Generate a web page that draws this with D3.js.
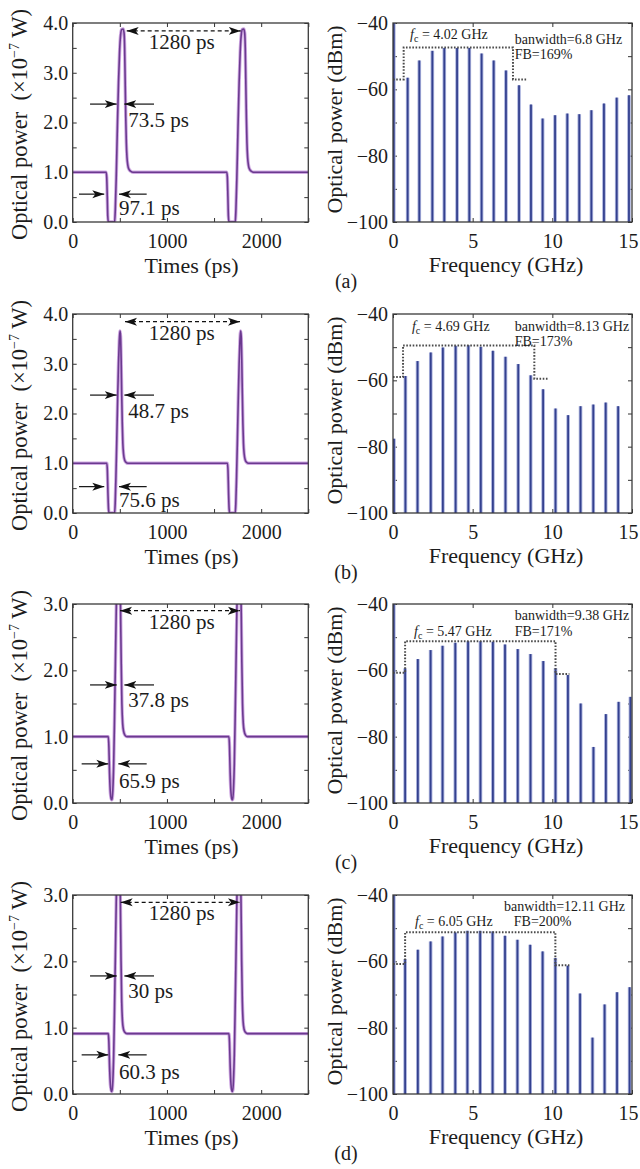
<!DOCTYPE html>
<html>
<head>
<meta charset="utf-8">
<script src="https://cdn.jsdelivr.net/npm/d3@7"></script>
<style>
  body { margin: 0; background: #fff; }
  text { font-family: "Liberation Serif", "DejaVu Serif", serif; fill: #1c1c1c; }
</style>
</head>
<body>
<svg id="fig" width="640" height="1169"></svg>
<script>
// ---- data ----
// time-domain waveforms (ps, x1e-7 W)
var waveA_t = [0,355,361,367,372,378,445,452,462,474,486,497,508,520,535,545,551,557,563,569,576,585,597,615,640,
  1635,1641,1647,1652,1658,1725,1732,1742,1754,1766,1777,1788,1800,1815,1825,1831,1837,1843,1849,1856,1865,1877,1895,1920,2500];
var waveA_p = [1.0,1.0,0.9,0.5,0.12,0,0,0.25,0.9,1.9,2.8,3.4,3.75,3.87,3.88,3.8,3.5,2.8,2.1,1.6,1.3,1.14,1.06,1.02,1.0,
  1.0,0.9,0.5,0.12,0,0,0.25,0.9,1.9,2.8,3.4,3.75,3.87,3.88,3.8,3.5,2.8,2.1,1.6,1.3,1.14,1.06,1.02,1.0,1.0];

var waveB_t = [0,362,368,374,380,386,445,451,459,468,477,486,494,502,508,514,520,526,532,540,550,565,585,
  1642,1648,1654,1660,1666,1725,1731,1739,1748,1757,1766,1774,1782,1788,1794,1800,1806,1812,1820,1830,1845,1865,2500];
var waveB_p = [1,1,0.85,0.4,0.08,0,0,0.2,0.75,1.5,2.3,3.0,3.45,3.66,3.55,3.1,2.4,1.8,1.4,1.18,1.07,1.02,1.0,
  1,0.85,0.4,0.08,0,0,0.2,0.75,1.5,2.3,3.0,3.45,3.66,3.55,3.1,2.4,1.8,1.4,1.18,1.07,1.02,1.0,1.0];

var waveC_t = [0,378,384,391,400,410,418,426,435,444,453,462,472,487,500,508,515,522,530,540,555,575,
  1658,1664,1671,1680,1690,1698,1706,1715,1724,1733,1742,1752,1767,1780,1788,1795,1802,1810,1820,1835,1855,2500];
var waveC_p = [1,1,0.85,0.45,0.15,0.05,0.05,0.2,0.6,1.3,2.1,2.9,3.6,4.0,3.6,2.9,2.1,1.5,1.2,1.08,1.02,1.0,
  1,0.85,0.45,0.15,0.05,0.05,0.2,0.6,1.3,2.1,2.9,3.6,4.0,3.6,2.9,2.1,1.5,1.2,1.08,1.02,1.0,1.0];

var waveD_t = [0,378,384,391,400,410,418,426,435,444,453,462,472,486,498,506,513,520,528,538,553,575,
  1658,1664,1671,1680,1690,1698,1706,1715,1724,1733,1742,1752,1766,1778,1786,1793,1800,1808,1818,1833,1855,2500];
var waveD_p = [0.91,0.91,0.78,0.42,0.14,0.04,0.04,0.2,0.6,1.3,2.1,2.9,3.7,4.2,3.7,2.9,2.0,1.4,1.1,0.98,0.93,0.91,
  0.91,0.78,0.42,0.14,0.04,0.04,0.2,0.6,1.3,2.1,2.9,3.7,4.2,3.7,2.9,2.0,1.4,1.1,0.98,0.93,0.91,0.91];

// spectra (GHz, dBm)
var specA_f = [0.05,0.92,1.65,2.47,3.22,4.02,4.79,5.56,6.32,7.09,7.91,8.66,9.39,10.17,10.94,11.69,12.45,13.24,14.04,14.81];
var specA_db = [-40,-56.5,-51.3,-48.4,-47.5,-47.5,-47.5,-49.2,-51.3,-54.3,-58.8,-64.6,-68.8,-67.8,-67.3,-67.5,-66.3,-64.3,-62.5,-61.8];

var specB_f = [0.06,0.78,1.54,2.37,3.13,3.93,4.73,5.51,6.27,7.06,7.86,8.64,9.42,10.2,10.99,11.77,12.57,13.35,14.13];
var specB_db = [-77.6,-58.7,-54.2,-51.6,-50.1,-49.6,-49.4,-49.9,-51.1,-52.9,-55.1,-58.5,-62.7,-68.5,-70.5,-67.8,-67.3,-66.7,-67.8];

var specC_f = [0.05,0.76,1.56,2.36,3.11,3.91,4.71,5.49,6.27,7.03,7.83,8.63,9.43,10.2,10.98,11.78,12.58,13.36,14.16,14.9];
var specC_db = [-40,-59.4,-56.6,-53.9,-52.6,-51.7,-51.2,-51.2,-51.4,-52.2,-53.6,-55.1,-57.2,-59.4,-61.4,-70,-83.1,-73.2,-69.5,-68];

var specD_f = [0.05,0.76,1.56,2.36,3.11,3.91,4.67,5.47,6.25,7.03,7.81,8.61,9.39,10.19,10.97,11.74,12.52,13.28,14.06,14.85];
var specD_db = [-40,-59.3,-56.5,-54,-52.5,-51.3,-50.8,-50.8,-51,-52.3,-53.5,-55,-57,-59,-61.3,-69.7,-83,-73,-69.3,-67.8];

// dotted bandwidth outline
var dotA_f = [0,0.67,0.67,7.53,7.53,8.45],  dotA_db = [-57,-57,-47.4,-47.4,-57,-57];
var dotB_f = [0,0.63,0.63,8.87,8.87,9.76],  dotB_db = [-59,-59,-49.5,-49.5,-59.5,-59.5];
var dotC_f = [0,0.76,0.76,10.2,10.2,11.07], dotC_db = [-60.7,-60.7,-51.2,-51.2,-61.1,-61.1];
var dotD_f = [0,0.76,0.76,10.19,10.19,11.07], dotD_db = [-60.8,-60.8,-51.2,-51.2,-61.2,-61.2];

// labels
var captions = ["(a)", "(b)", "(c)", "(d)"];
var pulseWidths = ["73.5 ps", "48.7 ps", "37.8 ps", "30 ps"];
var dipWidths = ["97.1 ps", "75.6 ps", "65.9 ps", "60.3 ps"];
var fcLabels = ["4.02 GHz", "4.69 GHz", "5.47 GHz", "6.05 GHz"];
var bwLabels = ["banwidth=6.8 GHz", "banwidth=8.13 GHz", "banwidth=9.38 GHz", "banwidth=12.11 GHz"];
var fbLabels = ["FB=169%", "FB=173%", "FB=171%", "FB=200%"];
var powerMax = [4, 4, 3, 3];
var periodLabel = "1280 ps";

var waves = [[waveA_t, waveA_p], [waveB_t, waveB_p], [waveC_t, waveC_p], [waveD_t, waveD_p]];
var specs = [[specA_f, specA_db], [specB_f, specB_db], [specC_f, specC_db], [specD_f, specD_db]];
var dots = [[dotA_f, dotA_db], [dotB_f, dotB_db], [dotC_f, dotC_db], [dotD_f, dotD_db]];

// ---- layout ----
var rowTop = [23, 314, 604, 895];
var plotH = 199;
var leftX = [72.7, 308.3];
var rightX = [393, 632];

// annotation placement (data coords of each panel)
var ann = [
  {dash: [573, 1783, 3.84], per: [1157, 3.48], fw: 2.37, fwText: [590, 1.91], dip: [0.56, 67, 335, 785, 491], dipText: [491, 0.14],
   fc: [1.07, -44.8], bw: [7.64, -46.3], fb: [7.64, -50.9]},
  {dash: [555, 1775, 3.845], per: [1157, 3.48], fw: 2.37, fwText: [590, 1.91], dip: [0.53, 67, 335, 785, 491], dipText: [491, 0.13],
   fc: [1.19, -45.1], bw: [7.64, -45.1], fb: [7.64, -49.6]},
  {dash: [502, 1775, 2.9], per: [1157, 2.62], fw: 1.78, fwText: [590, 1.44], dip: [0.59, 95, 378, 785, 484], dipText: [491, 0.23],
   fc: [1.32, -49.6], bw: [7.64, -44.8], fb: [7.64, -49.6]},
  {dash: [509, 1775, 2.89], per: [1157, 2.62], fw: 1.78, fwText: [590, 1.44], dip: [0.59, 95, 378, 785, 484], dipText: [491, 0.23],
   fc: [1.38, -49.3], bw: [6.97, -44.8], fb: [7.58, -49.3]}
];

var svg = d3.select("#fig");
var defs = svg.append("defs");
defs.append("marker")
  .attr("id", "arr")
  .attr("viewBox", "0 -5 12 10")
  .attr("refX", 12).attr("refY", 0)
  .attr("markerWidth", 12).attr("markerHeight", 10)
  .attr("markerUnits", "userSpaceOnUse")
  .attr("orient", "auto-start-reverse")
  .append("path")
  .attr("d", "M0,-4L12,0L0,4L3,0Z")
  .attr("fill", "#111");

function styleAxis(g, size) {
  g.select(".domain").remove();
  g.selectAll("line").attr("stroke", "#333").attr("stroke-width", 1);
  g.selectAll("text")
    .attr("font-family", "'Liberation Serif', serif")
    .attr("font-size", size)
    .attr("fill", "#1c1c1c");
}

function frame(g, x0, x1, y0, y1) {
  g.append("rect")
    .attr("x", x0).attr("y", y0)
    .attr("width", x1 - x0).attr("height", y1 - y0)
    .attr("fill", "none")
    .attr("stroke", "#3a3a3a")
    .attr("stroke-width", 1.3);
}

function arrowLine(g, x1, y1, x2, y2, dashed, both) {
  var l = g.append("line")
    .attr("x1", x1).attr("y1", y1).attr("x2", x2).attr("y2", y2)
    .attr("stroke", "#111").attr("stroke-width", 1.2)
    .attr("marker-end", "url(#arr)");
  if (both) l.attr("marker-start", "url(#arr)");
  if (dashed) l.attr("stroke-dasharray", "4,3");
}

waves.forEach(function(w, i) {
  var top = rowTop[i], bottom = top + plotH;
  var a = ann[i];

  // ---------- left: time domain ----------
  var x = d3.scaleLinear().domain([0, 2500]).range(leftX);
  var y = d3.scaleLinear().domain([0, powerMax[i]]).range([bottom, top]);
  var g = svg.append("g");

  var yTicks = d3.range(0, powerMax[i] + 0.01, 0.5);
  var xTicks = d3.range(0, 2501, 500);

  g.append("g").attr("transform", "translate(0," + bottom + ")")
    .call(d3.axisBottom(x).tickValues(xTicks).tickSize(-4).tickPadding(11.5)
      .tickFormat(function(d) { return d % 1000 === 0 ? d : ""; }))
    .call(styleAxis, 20);
  g.append("g").attr("transform", "translate(0," + top + ")")
    .call(d3.axisTop(x).tickValues(xTicks).tickSize(-4).tickFormat(""))
    .call(styleAxis, 20);
  g.append("g").attr("transform", "translate(" + leftX[0] + ",0)")
    .call(d3.axisLeft(y).tickValues(yTicks).tickSize(-4).tickPadding(4.5)
      .tickFormat(function(d) { return d % 1 === 0 ? d.toFixed(1) : ""; }))
    .call(styleAxis, 20);
  g.append("g").attr("transform", "translate(" + leftX[1] + ",0)")
    .call(d3.axisRight(y).tickValues(yTicks).tickSize(-4).tickFormat(""))
    .call(styleAxis, 20);

  var clipL = "clipL" + i;
  defs.append("clipPath").attr("id", clipL).append("rect")
    .attr("x", leftX[0]).attr("y", top).attr("width", leftX[1] - leftX[0]).attr("height", plotH);

  var pts = d3.zip(w[0], w[1]);
  var line = d3.line().x(function(d) { return x(d[0]); }).y(function(d) { return y(d[1]); })
    .curve(d3.curveMonotoneX);
  var lg = g.append("g").attr("clip-path", "url(#" + clipL + ")");
  lg.append("path").datum(pts).attr("d", line)
    .attr("fill", "none").attr("stroke", "#cfa9e2").attr("stroke-width", 3.4).attr("stroke-linejoin", "round");
  lg.append("path").datum(pts).attr("d", line)
    .attr("fill", "none").attr("stroke", "#6b3a8f").attr("stroke-width", 1.6).attr("stroke-linejoin", "round");

  frame(g, leftX[0], leftX[1], top, bottom);

  // annotations
  arrowLine(g, x(a.dash[0]), y(a.dash[2]), x(a.dash[1]), y(a.dash[2]), true, true);
  g.append("text").attr("x", x(a.per[0])).attr("y", y(a.per[1]))
    .attr("text-anchor", "middle").attr("font-size", 21).text(periodLabel);

  arrowLine(g, x(184), y(a.fw), x(467), y(a.fw), false, false);
  arrowLine(g, x(863), y(a.fw), x(548), y(a.fw), false, false);
  g.append("text").attr("x", x(a.fwText[0])).attr("y", y(a.fwText[1]))
    .attr("font-size", 21).text(pulseWidths[i]);

  arrowLine(g, x(a.dip[1]), y(a.dip[0]), x(a.dip[2]), y(a.dip[0]), false, false);
  arrowLine(g, x(a.dip[3]), y(a.dip[0]), x(a.dip[4]), y(a.dip[0]), false, false);
  g.append("text").attr("x", x(a.dipText[0])).attr("y", y(a.dipText[1]))
    .attr("font-size", 21).text(dipWidths[i]);

  g.append("text").attr("x", (leftX[0] + leftX[1]) / 2 + 1).attr("y", bottom + 51)
    .attr("text-anchor", "middle").attr("font-size", 22).text("Times (ps)");

  var yl = g.append("text")
    .attr("transform", "translate(27," + (top + plotH / 2 + 2) + ") rotate(-90)")
    .attr("text-anchor", "middle").attr("font-size", 22.5);
  yl.append("tspan").text("Optical power\u2002(\u00d710");
  yl.append("tspan").attr("dy", -8).attr("font-size", 14).text("\u22127");
  yl.append("tspan").attr("dy", 8).text(" W)");

  // ---------- right: spectrum ----------
  var s = specs[i], dt = dots[i];
  var fx = d3.scaleLinear().domain([0, 15]).range(rightX);
  var dy = d3.scaleLinear().domain([-100, -40]).range([bottom, top]);
  var h = svg.append("g");

  var fTicks = [0, 5, 10, 15];
  var dTicks = d3.range(-100, -39, 10);
  h.append("g").attr("transform", "translate(0," + bottom + ")")
    .call(d3.axisBottom(fx).tickValues(fTicks).tickSize(-4).tickPadding(11.5))
    .call(styleAxis, 20)
    .selectAll(".tick text").attr("dx", function(d) { return d === 15 ? -4 : 0; });
  h.append("g").attr("transform", "translate(0," + top + ")")
    .call(d3.axisTop(fx).tickValues(fTicks).tickSize(-4).tickFormat(""))
    .call(styleAxis, 20);
  h.append("g").attr("transform", "translate(" + rightX[0] + ",0)")
    .call(d3.axisLeft(dy).tickValues(dTicks).tickSize(-4).tickPadding(5)
      .tickFormat(function(d) { return d % 20 === 0 ? "\u2212" + Math.abs(d) : ""; }))
    .call(styleAxis, 20);
  h.append("g").attr("transform", "translate(" + rightX[1] + ",0)")
    .call(d3.axisRight(dy).tickValues(dTicks).tickSize(-4).tickFormat(""))
    .call(styleAxis, 20);

  var clipR = "clipR" + i;
  defs.append("clipPath").attr("id", clipR).append("rect")
    .attr("x", rightX[0]).attr("y", top).attr("width", rightX[1] - rightX[0]).attr("height", plotH);

  var sp = d3.zip(s[0], s[1]);
  var sg = h.append("g").attr("clip-path", "url(#" + clipR + ")");
  sg.selectAll("line.halo").data(sp).enter().append("line")
    .attr("class", "halo")
    .attr("x1", function(d) { return fx(d[0]); }).attr("x2", function(d) { return fx(d[0]); })
    .attr("y1", dy(-100)).attr("y2", function(d) { return dy(d[1]); })
    .attr("stroke", "#a9b1dc").attr("stroke-width", 3.6);
  sg.selectAll("line.core").data(sp).enter().append("line")
    .attr("class", "core")
    .attr("x1", function(d) { return fx(d[0]); }).attr("x2", function(d) { return fx(d[0]); })
    .attr("y1", dy(-100)).attr("y2", function(d) { return dy(d[1]); })
    .attr("stroke", "#34418f").attr("stroke-width", 1.8);

  var dline = d3.line().x(function(d) { return fx(d[0]); }).y(function(d) { return dy(d[1]); });
  sg.append("path").datum(d3.zip(dt[0], dt[1])).attr("d", dline)
    .attr("fill", "none").attr("stroke", "#4a4a4a").attr("stroke-width", 2)
    .attr("stroke-dasharray", "1.6,1.6");

  frame(h, rightX[0], rightX[1], top, bottom);

  var fc = h.append("text").attr("x", fx(a.fc[0])).attr("y", dy(a.fc[1])).attr("font-size", 14);
  fc.append("tspan").attr("font-style", "italic").text("f");
  fc.append("tspan").attr("dy", 3).attr("font-size", 10).text("c");
  fc.append("tspan").attr("dy", -3).text(" = " + fcLabels[i]);
  h.append("text").attr("x", fx(a.bw[0])).attr("y", dy(a.bw[1])).attr("font-size", 14).text(bwLabels[i]);
  h.append("text").attr("x", fx(a.fb[0])).attr("y", dy(a.fb[1])).attr("font-size", 14).text(fbLabels[i]);

  h.append("text").attr("x", 506).attr("y", bottom + 50)
    .attr("text-anchor", "middle").attr("font-size", 22).text("Frequency (GHz)");
  h.append("text")
    .attr("transform", "translate(342," + (top + plotH / 2 - 3) + ") rotate(-90)")
    .attr("text-anchor", "middle").attr("font-size", 22).text("Optical power (dBm)");

  svg.append("text").attr("x", 346).attr("y", bottom + 66)
    .attr("text-anchor", "middle").attr("font-size", 20).text(captions[i]);
});
</script>
</body>
</html>
